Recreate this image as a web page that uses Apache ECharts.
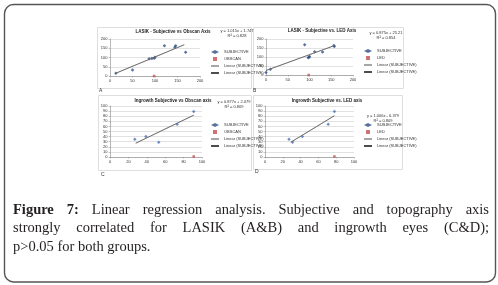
<!DOCTYPE html>
<html>
<head>
<meta charset="utf-8">
<script src="https://cdn.jsdelivr.net/npm/echarts@6/dist/echarts.min.js"></script>
<style>
html, body { margin: 0; padding: 0; background: #fff; }
#main { width: 498px; height: 285px; }
</style>
</head>
<body>
<div id="main"></div>
<script>
// 数据
// A: LASIK - Subjective vs Obscan
var subjA = [[13,15],[50,33],[87,93],[93,95],[98,96],[100,102],[121,164],[144,156],[146,164],[168,129]];
var obscanA = [[98,0]];
var trendA = [[12,14],[165,169]];
// B: LASIK - Subjective vs LED
var subjB = [[0,14],[10,32],[89,168],[97,96],[99,98],[100,103],[112,129],[130,128],[156,164],[157,159]];
var ledB = [[98,0]];
var trendB = [[0,25],[158,164]];
// C: Ingrowth - Subjective vs Obscan
var subjC = [[27,35],[39,40],[53,29],[73,64],[91,89]];
var obscanC = [[91,1]];
var trendC = [[28,27],[91,82]];
// D: Ingrowth - Subjective vs LED
var subjD = [[27,35],[31,29],[42,40],[71,64],[78,89]];
var ledD = [[78,1]];
var trendD = [[29,29],[78,81]];

var titles = ['LASIK - Subjective vs Obscan Axis', 'LASIK - Subjective vs. LED Axis',
              'Ingrowth Subjective vs Obscan axis', 'Ingrowth Subjective vs. LED axis'];
var equations = [['y = 1.015x + 1.747', 'R² = 0.828'], ['y = 0.875x + 25.21', 'R² = 0.854'],
                 ['y = 0.877x + 2.079', 'R² = 0.809'], ['y = 1.006x - 6.379', 'R² = 0.809']];
var panelLetters = ['A', 'B', 'C', 'D'];
var axisMax = [200, 200, 100, 100];
var xStep = [50, 50, 20, 20];
var yStep = [50, 50, 10, 10];

var captionLines = [
    'Figure 7: Linear regression analysis. Subjective and topography axis',
    'strongly correlated for LASIK (A&B) and ingrowth eyes (C&D);',
    'p>0.05 for both groups.'
];

var chart = echarts.init(document.getElementById('main'));

// 四个小图的位置
var grids = [
    {left: 110, top: 39, width: 90, height: 37},
    {left: 266, top: 39, width: 87, height: 36},
    {left: 110, top: 106, width: 92, height: 51},
    {left: 265, top: 106, width: 89, height: 51}
];
var boxes = [[97, 27, 154, 61], [253, 27, 150, 61], [98, 95, 153, 75], [253, 95, 149, 74]];
var letterPos = [[99, 91], [253, 91], [101, 175], [255, 172]];
var titlePos = [[173, 29], [322, 28], [173, 98], [327, 98]];
var eqPos = [[237, 29], [386, 31], [234, 100], [383, 114]];
var legendPos = [[210, 50], [363, 49], [210, 123], [363, 123]];
var refNames = ['OBSCAN', 'LED', 'OBSCAN', 'LED'];
var subjData = [subjA, subjB, subjC, subjD];
var refData = [obscanA, ledB, obscanC, ledD];
var trendData = [trendA, trendB, trendC, trendD];
var subjColor = ['#2f4f86', '#2f4f86', '#4a74b4', '#4a74b4'];

var axisLabelStyle = {fontSize: 4, color: '#333', margin: 2.5, fontFamily: 'Arial, "Liberation Sans", sans-serif'};
var squareIcon = 'path://M0,0L1,0L1,1L0,1Z';

var xAxes = [], yAxes = [], series = [], titleList = [], legends = [], graphics = [];

for (var i = 0; i < 4; i++) {
    xAxes.push({
        gridIndex: i, type: 'value', min: 0, max: axisMax[i], interval: xStep[i],
        axisLine: {show: true, onZero: false, lineStyle: {color: '#8a8a8a', width: 0.6}},
        axisTick: {show: true, length: 1.5, lineStyle: {color: '#8a8a8a', width: 0.5}},
        axisLabel: axisLabelStyle,
        splitLine: {show: false}
    });
    yAxes.push({
        gridIndex: i, type: 'value', min: 0, max: axisMax[i], interval: yStep[i],
        axisLine: {show: true, onZero: false, lineStyle: {color: '#8a8a8a', width: 0.6}},
        axisTick: {show: true, length: 1.5, lineStyle: {color: '#8a8a8a', width: 0.5}},
        axisLabel: axisLabelStyle,
        splitLine: {show: true, lineStyle: {color: '#cfcfcf', width: 0.6}}
    });
    series.push({
        name: 'SUBJECTIVE', type: 'scatter', xAxisIndex: i, yAxisIndex: i,
        symbol: 'diamond', symbolSize: 3.5,
        itemStyle: {color: subjColor[i]},
        data: subjData[i]
    });
    series.push({
        name: refNames[i], type: 'scatter', xAxisIndex: i, yAxisIndex: i,
        symbol: 'rect', symbolSize: 2.5,
        itemStyle: {color: '#c0504d'},
        data: refData[i]
    });
    series.push({
        name: 'Linear (SUBJECTIVE)', type: 'line', xAxisIndex: i, yAxisIndex: i,
        symbol: 'none', itemStyle: {color: '#a6a6a6'},
        lineStyle: {color: '#a6a6a6', width: 0.7},
        data: trendData[i]
    });
    series.push({
        name: 'Linear (SUBJECTIVE) ', type: 'line', xAxisIndex: i, yAxisIndex: i,
        symbol: 'none', itemStyle: {color: '#4d4d4d'},
        lineStyle: {color: '#4d4d4d', width: 0.7},
        data: trendData[i]
    });
    titleList.push({
        text: titles[i], left: titlePos[i][0], top: titlePos[i][1], textAlign: 'center', padding: 0,
        textStyle: {fontSize: 4.5, fontWeight: 'bold', color: '#222', fontFamily: 'Arial, "Liberation Sans", sans-serif'}
    });
    legends.push({
        orient: 'vertical', left: legendPos[i][0], top: legendPos[i][1], padding: 0,
        itemWidth: 8, itemHeight: 4, itemGap: 3,
        textStyle: {fontSize: 4, color: '#333', fontFamily: 'Arial, "Liberation Sans", sans-serif'},
        data: [
            {name: 'SUBJECTIVE', icon: 'diamond'},
            {name: refNames[i], icon: squareIcon, itemStyle: {color: '#c0504d'}},
            {name: 'Linear (SUBJECTIVE)', itemStyle: {opacity: 0}},
            {name: 'Linear (SUBJECTIVE) ', itemStyle: {opacity: 0}}
        ]
    });
    // 面板边框
    graphics.push({
        type: 'rect', silent: true, z: -1,
        shape: {x: boxes[i][0] + 0.5, y: boxes[i][1] + 0.5, width: boxes[i][2], height: boxes[i][3]},
        style: {fill: 'none', stroke: '#d6d6d6', lineWidth: 0.8}
    });
    graphics.push({
        type: 'text', x: letterPos[i][0], y: letterPos[i][1],
        style: {text: panelLetters[i], font: '5px Arial, sans-serif', fill: '#333', verticalAlign: 'middle'}
    });
    graphics.push({
        type: 'text', x: eqPos[i][0], y: eqPos[i][1],
        style: {text: equations[i][0] + '\n' + equations[i][1], font: '4px Arial, sans-serif', fill: '#333',
                align: 'center', verticalAlign: 'top', lineHeight: 4.5}
    });
}

// 外框
graphics.push({
    type: 'rect', silent: true,
    shape: {x: 4.5, y: 4.5, width: 491, height: 277.5, r: 9},
    style: {fill: 'none', stroke: '#555', lineWidth: 1.4}
});

// 说明文字（两端对齐）
var capSize = 14.5;
var capFamily = '"Liberation Serif", "DejaVu Serif", serif';
var capLeft = 13, capRight = 489;
var capY = [210, 228.5, 247];
var ctx = document.createElement('canvas').getContext('2d');
function measure(word, bold) {
    ctx.font = (bold ? 'bold ' : '') + capSize + 'px ' + capFamily;
    return ctx.measureText(word).width;
}
captionLines.forEach(function (line, li) {
    var words = line.split(' ');
    var widths = [], total = 0;
    words.forEach(function (w, wi) {
        var bold = li === 0 && wi < 2;
        var wd = measure(w, bold);
        widths.push(wd);
        total += wd;
    });
    var last = li === captionLines.length - 1;
    var gap = last ? measure(' ', false) : (capRight - capLeft - total) / (words.length - 1);
    var x = capLeft;
    words.forEach(function (w, wi) {
        var bold = li === 0 && wi < 2;
        graphics.push({
            type: 'text', x: x, y: capY[li],
            style: {text: w, font: (bold ? 'bold ' : '') + capSize + 'px ' + capFamily,
                    fill: '#231f20', verticalAlign: 'middle'}
        });
        x += widths[wi] + gap;
    });
});

var option = {
    backgroundColor: '#fff',
    animation: false,
    title: titleList,
    legend: legends,
    grid: grids,
    xAxis: xAxes,
    yAxis: yAxes,
    series: series,
    graphic: graphics
};

chart.setOption(option);
</script>
</body>
</html>
